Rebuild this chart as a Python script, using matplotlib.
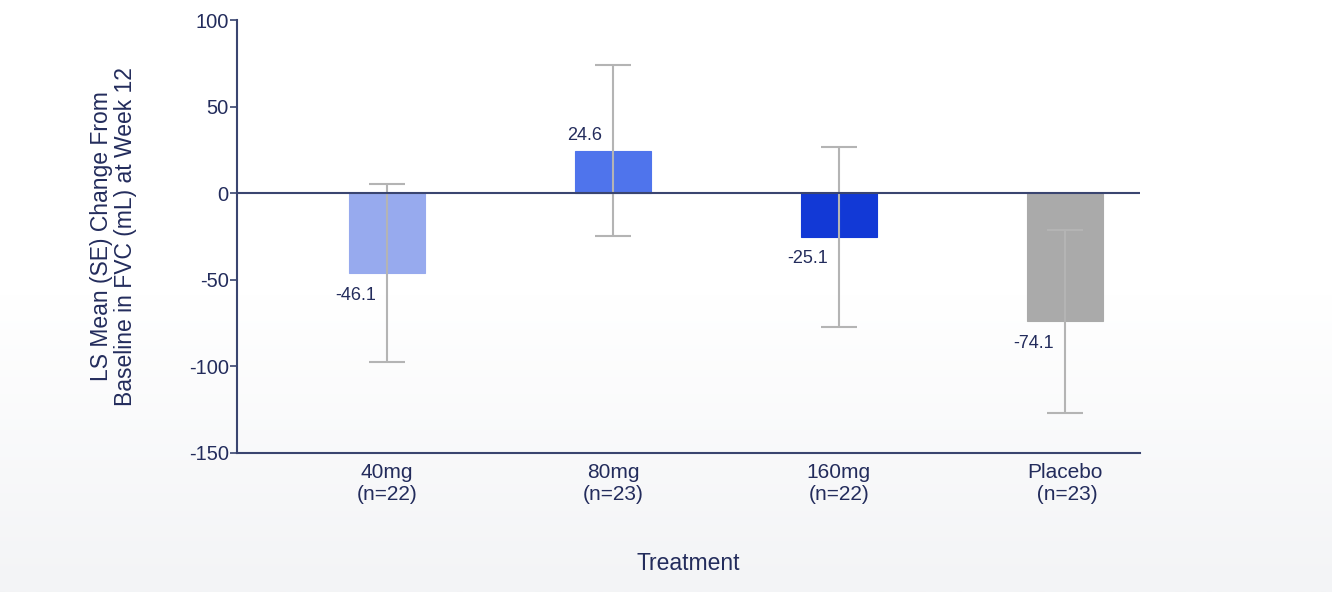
import numpy as np
import matplotlib
matplotlib.use("Agg")
import matplotlib.pyplot as plt
from matplotlib.colors import LinearSegmentedColormap

plt.rcParams['font.family'] = ['Liberation Sans', 'DejaVu Sans']
plt.rcParams['axes.unicode_minus'] = False

categories = ["40mg\n(n=22)", "80mg\n(n=23)", "160mg\n(n=22)", "Placebo\n (n=23)"]
ls_mean = [-46.1, 24.6, -25.1, -74.1]
se = [51.5, 49.5, 52.0, 53.0]
bar_colors = ["#97AAEE", "#4F74EC", "#1239D6", "#AAAAAA"]

navy = "#232C5C"
axis_col = "#3A4570"

fig = plt.figure(figsize=(13.32, 5.92), dpi=100)

# soft vertical background gradient
bg = fig.add_axes([0, 0, 1, 1], zorder=-10)
grad = np.linspace(0, 1, 256).reshape(-1, 1)
cmap = LinearSegmentedColormap.from_list("bg", ["#ffffff", "#ffffff", "#f3f4f6"])
bg.imshow(grad, aspect="auto", cmap=cmap, extent=[0, 1, 0, 1], origin="upper")
bg.set_axis_off()

ax = fig.add_axes([0.178, 0.235, 0.678, 0.731])
ax.patch.set_alpha(0)

x = np.arange(len(categories))
ax.bar(x, ls_mean, width=0.337, color=bar_colors, edgecolor=bar_colors,
       linewidth=0.8, zorder=2)
ax.errorbar(x, ls_mean, yerr=se, fmt="none", ecolor="#B4B4B4",
            elinewidth=1.5, capsize=13, capthick=1.5, zorder=3)

ax.axhline(0, color=axis_col, lw=1.5, zorder=4)

for xi, v in zip(x, ls_mean):
    off = 11 if v > 0 else -16
    ax.annotate(f"{v:.1f}", (xi, v), xytext=(-8, off),
                textcoords="offset points", ha="right", va="center",
                fontsize=13, color=navy)

ax.set_xlim(-0.665, 3.335)
ax.set_ylim(-150, 100)
ax.set_yticks([-150, -100, -50, 0, 50, 100])
ax.set_xticks(x)
ax.set_xticklabels(categories, fontsize=15, color=navy, linespacing=1.2)
ax.tick_params(axis="x", length=0, pad=7)
ax.tick_params(axis="y", length=5, width=1.2, color=axis_col,
               labelsize=14.5, labelcolor=navy, pad=1)

for s in ["top", "right"]:
    ax.spines[s].set_visible(False)
for s in ["left", "bottom"]:
    ax.spines[s].set_color(axis_col)
    ax.spines[s].set_linewidth(1.5)

ax.set_ylabel("LS Mean (SE) Change From\nBaseline in FVC (mL) at Week 12",
              fontsize=16.5, color=navy, labelpad=37, linespacing=1.1)
ax.set_xlabel("Treatment", fontsize=16.5, color=navy, labelpad=35)

fig.savefig("out.png", dpi=100)
